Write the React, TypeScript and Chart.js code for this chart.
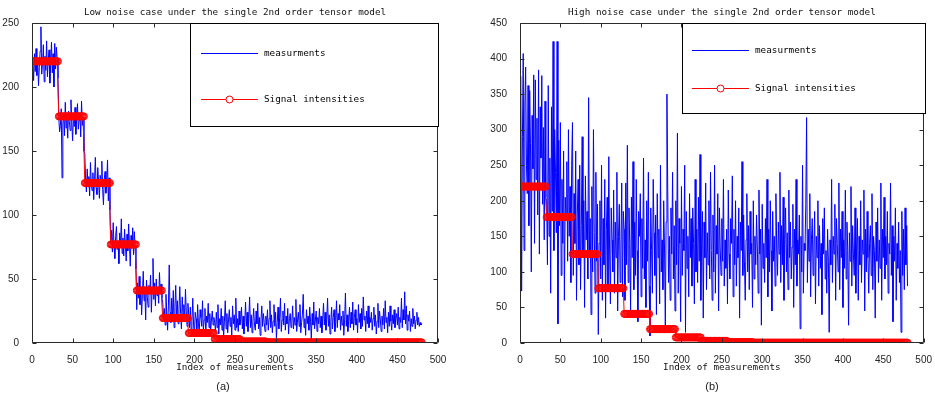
import React, { useEffect, useRef } from 'react';
import { Chart, registerables } from 'chart.js';

Chart.register(...registerables);

// ---------- data ----------
// signal intensity per block of 32 measurements (same in both panels)
const signalLevels = [220, 177, 125, 77, 41, 19.5, 7.8, 3, 1.2, 0.5, 0.5, 0.5, 0.5, 0.5, 0.5];
const blockSize = 32;

const lowNoiseMeasurements = [
  218, 205, 226, 212, 230, 209, 222, 201, 215, 228, 247, 210, 219, 233, 204, 224, 213, 236, 208, 221, 229, 203, 217, 235, 211, 226, 200, 234, 214, 231, 222, 207,
  176, 165, 170, 183, 129, 171, 179, 162, 188, 168, 175, 160, 181, 173, 166, 190, 172, 158, 178, 169, 184, 163, 175, 187, 167, 174, 180, 161, 189, 170, 176, 150,
  148, 128, 118, 136, 122, 130, 115, 141, 124, 119, 133, 112, 127, 145, 121, 116, 137, 126, 113, 131, 123, 142, 120, 108, 128, 134, 117, 125, 143, 111, 129, 104,
  80, 88, 71, 94, 76, 66, 83, 91, 73, 79, 62, 86, 75, 97, 70, 82, 68, 89, 77, 64, 85, 72, 93, 78, 60, 84, 74, 90, 69, 87, 76, 58,
  26, 47, 35, 52, 30, 44, 22, 38, 56, 33, 41, 18, 49, 36, 28, 45, 39, 53, 24, 42, 66, 34, 47, 29, 50, 37, 43, 31, 55, 40, 46, 35,
  32, 18, 27, 14, 38, 22, 10, 29, 61, 24, 16, 35, 20, 41, 12, 28, 45, 19, 33, 15, 26, 44, 23, 11, 36, 21, 30, 17, 42, 25, 13, 31,
  22, 12, 28, 9, 17, 35, 14, 6, 24, 19, 11, 30, 15, 8, 26, 20, 13, 33, 10, 18, 27, 7, 21, 16, 31, 12, 23, 9, 18, 25, 14, 20,
  16, 9, 24, 12, 30, 7, 19, 14, 27, 10, 21, 5, 17, 33, 11, 23, 8, 18, 26, 13, 20, 6, 29, 15, 22, 10, 35, 12, 19, 9, 25, 14,
  18, 28, 11, 21, 7, 16, 32, 13, 24, 9, 19, 36, 12, 22, 8, 17, 27, 14, 10, 25, 15, 31, 11, 20, 6, 18, 29, 13, 23, 16, 9, 21,
  14, 26, 10, 19, 33, 12, 22, 8, 17, 30, 13, 24, 4, 16, 28, 11, 20, 35, 9, 18, 25, 14, 31, 10, 21, 15, 27, 7, 19, 23, 12, 17,
  29, 11, 20, 14, 34, 9, 18, 24, 13, 30, 8, 16, 22, 38, 12, 19, 6, 26, 15, 21, 10, 28, 17, 3, 23, 14, 32, 11, 18, 25, 9, 20,
  15, 27, 12, 21, 8, 18, 31, 14, 24, 10, 19, 35, 13, 22, 7, 17, 28, 11, 20, 26, 9, 16, 33, 12, 23, 18, 30, 10, 21, 14, 25, 6,
  18, 39, 13, 22, 9, 17, 28, 12, 24, 15, 32, 10, 20, 26, 14, 19, 8, 30, 16, 23, 11, 27, 13, 36, 18, 21, 9, 25, 15, 29, 12, 20,
  16, 24, 10, 19, 28, 13, 22, 7, 17, 31, 12, 25, 18, 9, 21, 14, 27, 11, 33, 16, 20, 8, 24, 13, 29, 17, 10, 22, 15, 26, 12, 19,
  23, 14, 28, 11, 20, 16, 35, 12, 26, 18, 40, 15, 29, 10, 22, 17, 25, 9, 19, 13, 27, 15, 21, 11, 18, 24, 14, 20, 13, 16, 14, 15,
];

const highNoiseMeasurements = [
  375, 73, 290, 407, 130, 336, 388, 250, 210, 362, 165, 355, 280, 100, 320, 245, 377, 140, 370, 230, 316, 180, 384, 125, 332, 260, 376, 195, 303, 145, 340, 205,
  200, 110, 362, 150, 260, 70, 332, 185, 424, 130, 300, 240, 155, 424, 27, 285, 165, 310, 95, 230, 140, 270, 60, 205, 175, 255, 115, 300, 150, 220, 85, 250,
  310, 95, 210, 140, 270, 60, 180, 230, 110, 250, 75, 165, 290, 120, 200, 50, 235, 145, 185, 90, 345, 130, 175, 40, 220, 100, 300, 155, 70, 240, 115, 195,
  12, 140, 200, 90, 250, 60, 175, 110, 230, 35, 160, 205, 80, 262, 125, 55, 190, 145, 100, 215, 70, 170, 120, 240, 45, 150, 195, 85, 130, 225, 65, 185,
  160, 60, 225, 110, 278, 85, 190, 140, 45, 205, 120, 255, 75, 170, 95, 230, 130, 30, 185, 150, 210, 65, 175, 105, 260, 90, 145, 50, 200, 115, 240, 80,
  10, 190, 130, 70, 230, 155, 95, 180, 40, 210, 120, 160, 55, 250, 100, 145, 75, 200, 135, 20, 170, 350, 215, 85, 150, 60, 190, 125, 240, 90, 165, 45,
  200, 110, 295, 70, 175, 140, 30, 220, 95, 160, 130, 250, 15, 185, 105, 150, 65, 210, 120, 175, 80, 190, 140, 55, 230, 100, 160, 85, 205, 115, 265, 60,
  140, 185, 35, 170, 120, 225, 75, 155, 110, 200, 90, 240, 130, 60, 180, 100, 250, 70, 165, 125, 210, 45, 190, 135, 95, 175, 115, 230, 80, 145, 105, 160,
  55, 215, 125, 90, 175, 140, 235, 65, 160, 110, 200, 80, 150, 120, 190, 35, 170, 130, 255, 95, 180, 115, 60, 145, 210, 100, 165, 75, 185, 125, 140, 50,
  200, 90, 150, 110, 180, 135, 70, 215, 125, 160, 25, 195, 105, 140, 85, 175, 120, 230, 65, 160, 100, 200, 130, 45, 185, 115, 150, 80, 210, 135, 95, 170,
  125, 240, 85, 165, 110, 205, 60, 145, 190, 100, 155, 75, 215, 120, 170, 90, 135, 195, 50, 160, 110, 230, 80, 145, 125, 180, 20, 150, 100, 250, 70, 140,
  130, 195, 317, 85, 160, 115, 210, 65, 145, 175, 95, 135, 185, 55, 150, 120, 200, 80, 165, 105, 140, 40, 175, 125, 190, 90, 130, 70, 160, 115, 15, 145,
  110, 230, 85, 150, 125, 195, 60, 175, 140, 100, 225, 75, 160, 120, 185, 50, 145, 105, 215, 90, 170, 130, 25, 155, 115, 220, 80, 165, 125, 95, 190, 70,
  135, 175, 60, 150, 110, 200, 85, 145, 125, 215, 45, 160, 100, 185, 120, 70, 140, 165, 95, 210, 75, 150, 130, 35, 170, 115, 190, 85, 145, 105, 225, 60,
  160, 120, 205, 90, 150, 110, 185, 70, 140, 125, 225, 95, 165, 30, 150, 115, 190, 60, 140, 105, 170, 85, 130, 15, 185, 95, 160, 75, 190, 110, 165, 80,
];

const xTicks = [0, 50, 100, 150, 200, 250, 300, 350, 400, 450, 500];
const lowYTicks = [0, 50, 100, 150, 200, 250];
const highYTicks = [0, 50, 100, 150, 200, 250, 300, 350, 400, 450];

const seriesNames = ['measurments', 'Signal intensities'];
const xAxisLabel = 'Index of measurements';
const titles = [
  'Low noise case under the single 2nd order tensor model',
  'High noise case under the single 2nd order tensor model',
];
const captions = ['(a)', '(b)'];

// ---------- rendering ----------
const MONO = '"DejaVu Sans Mono", "Liberation Mono", monospace';
const SANS = '"Liberation Sans", Arial, sans-serif';

const signalSeries: number[] = [];
signalLevels.forEach((lvl) => {
  for (let k = 0; k < blockSize; k++) signalSeries.push(lvl);
});

type LegendGeom = {
  x1: number; x2: number; y1: number; y2: number;
  row1: number; row2: number; lineX1: number; lineX2: number; textX: number;
};

type PanelSpec = {
  left: number;
  width: number;
  title: string;
  caption: string;
  captionX: number;
  measurements: number[];
  yMax: number;
  yTicks: number[];
  yAxisWidth: number;
  padRight: number;
  legend: LegendGeom;
};

const H = 397;

const boxPlugin = {
  id: 'matlabBox',
  afterDatasetsDraw(chart: any, _args: any, opts: any) {
    const { ctx, chartArea: a } = chart;
    const xs = chart.scales.x;
    const ys = chart.scales.y;
    ctx.save();
    const L = Math.round(a.left) + 0.5;
    const R = Math.round(a.right) - 0.5;
    const T = Math.round(a.top) + 0.5;
    const B = Math.round(a.bottom) - 0.5;
    ctx.strokeStyle = '#2a2a2a';
    ctx.lineWidth = 1;
    ctx.beginPath();
    ctx.rect(L, T, R - L, B - T);
    xTicks.forEach((v) => {
      const px = Math.round(xs.getPixelForValue(v)) + 0.5;
      ctx.moveTo(px, B);
      ctx.lineTo(px, B - 4);
      ctx.moveTo(px, T);
      ctx.lineTo(px, T + 4);
    });
    (opts.yTicks as number[]).forEach((v) => {
      const py = Math.round(ys.getPixelForValue(v)) + 0.5;
      ctx.moveTo(L, py);
      ctx.lineTo(L + 4, py);
      ctx.moveTo(R, py);
      ctx.lineTo(R - 4, py);
    });
    ctx.stroke();

    // legend box
    const lg: LegendGeom = opts.legend;
    ctx.fillStyle = '#ffffff';
    ctx.fillRect(lg.x1, lg.y1, lg.x2 - lg.x1, lg.y2 - lg.y1);
    ctx.strokeStyle = '#000000';
    ctx.strokeRect(lg.x1 + 0.5, lg.y1 + 0.5, lg.x2 - lg.x1 - 1, lg.y2 - lg.y1 - 1);

    const ds = chart.data.datasets;
    ctx.lineWidth = 1;
    // row 1: measurements
    ctx.strokeStyle = '#0000ff';
    ctx.beginPath();
    ctx.moveTo(lg.lineX1, lg.row1 + 0.5);
    ctx.lineTo(lg.lineX2, lg.row1 + 0.5);
    ctx.stroke();
    // row 2: signal with marker
    ctx.strokeStyle = '#ff0000';
    ctx.beginPath();
    ctx.moveTo(lg.lineX1, lg.row2 + 0.5);
    ctx.lineTo(lg.lineX2, lg.row2 + 0.5);
    ctx.stroke();
    ctx.fillStyle = '#ffffff';
    ctx.beginPath();
    ctx.arc((lg.lineX1 + lg.lineX2) / 2, lg.row2 + 0.5, 3.5, 0, Math.PI * 2);
    ctx.fill();
    ctx.stroke();

    ctx.fillStyle = '#000000';
    ctx.font = `9.3px ${MONO}`;
    ctx.textBaseline = 'middle';
    ctx.textAlign = 'left';
    ctx.fillText(ds[0].label, lg.textX, lg.row1 + 1);
    ctx.fillText(ds[1].label, lg.textX, lg.row2 + 1);

    // caption under the panel
    ctx.font = `11px ${SANS}`;
    ctx.textAlign = 'center';
    ctx.fillStyle = '#222222';
    ctx.fillText(opts.caption, opts.captionX, 387);
    ctx.restore();
  },
};

function Panel({ spec }: { spec: PanelSpec }) {
  const ref = useRef<HTMLCanvasElement | null>(null);
  useEffect(() => {
    if (!ref.current) return;
    const chart = new Chart(ref.current, {
      type: 'line',
      data: {
        datasets: [
          {
            label: seriesNames[0],
            data: spec.measurements.map((y, i) => ({ x: i + 1, y })),
            borderColor: '#0000ff',
            borderWidth: 1,
            pointRadius: 0,
            fill: false,
            tension: 0,
            order: 2,
          },
          {
            label: seriesNames[1],
            data: signalSeries.map((y, i) => ({ x: i + 1, y })),
            borderColor: '#ff0000',
            borderWidth: 1,
            pointRadius: 3.5,
            pointStyle: 'circle',
            pointBorderColor: '#ff0000',
            pointBackgroundColor: 'rgba(255,255,255,0)',
            pointBorderWidth: 1,
            fill: false,
            tension: 0,
            order: 1,
          },
        ],
      },
      options: {
        responsive: false,
        animation: false,
        devicePixelRatio: 1,
        events: [],
        layout: { padding: { left: 0, right: spec.padRight, top: 0, bottom: 0 } },
        plugins: {
          legend: { display: false },
          tooltip: { enabled: false },
          title: {
            display: true,
            text: spec.title,
            fullSize: false,
            color: '#111111',
            font: { family: MONO, size: 9.3, weight: 'normal' },
            padding: { top: 7.4, bottom: 4.4 },
          },
          matlabBox: { yTicks: spec.yTicks, legend: spec.legend, caption: spec.caption, captionX: spec.captionX },
        } as any,
        scales: {
          x: {
            type: 'linear',
            min: 0,
            max: 500,
            afterBuildTicks: (s: any) => {
              s.ticks = xTicks.map((v) => ({ value: v }));
            },
            afterFit: (s: any) => {
              s.height = 54;
            },
            grid: { display: false },
            border: { display: false },
            ticks: {
              autoSkip: false,
              maxRotation: 0,
              padding: 3,
              color: '#262626',
              font: { family: SANS, size: 10 },
            },
            title: {
              display: true,
              text: xAxisLabel,
              color: '#111111',
              font: { family: MONO, size: 9.3 },
              padding: { top: 0, bottom: 23.4 },
            },
          },
          y: {
            type: 'linear',
            min: 0,
            max: spec.yMax,
            afterBuildTicks: (s: any) => {
              s.ticks = spec.yTicks.map((v) => ({ value: v }));
            },
            afterFit: (s: any) => {
              s.width = spec.yAxisWidth;
            },
            grid: { display: false },
            border: { display: false },
            ticks: {
              padding: 5,
              color: '#262626',
              font: { family: SANS, size: 10 },
            },
          },
        },
      },
      plugins: [boxPlugin as any],
    });
    return () => chart.destroy();
  }, [spec]);
  return (
    <canvas
      ref={ref}
      width={spec.width}
      height={H}
      style={{ position: 'absolute', left: spec.left, top: 0, width: spec.width, height: H }}
    />
  );
}

const panels: PanelSpec[] = [
  {
    left: 0,
    width: 470,
    title: titles[0],
    caption: captions[0],
    captionX: 223,
    measurements: lowNoiseMeasurements,
    yMax: 250,
    yTicks: lowYTicks,
    yAxisWidth: 32,
    padRight: 32,
    legend: { x1: 190, x2: 439, y1: 23, y2: 127, row1: 53, row2: 99, lineX1: 201, lineX2: 258, textX: 264 },
  },
  {
    left: 470,
    width: 465,
    title: titles[1],
    caption: captions[1],
    captionX: 242,
    measurements: highNoiseMeasurements,
    yMax: 450,
    yTicks: highYTicks,
    yAxisWidth: 50,
    padRight: 10,
    legend: { x1: 212, x2: 456, y1: 23, y2: 114, row1: 50, row2: 88, lineX1: 222, lineX2: 279, textX: 285 },
  },
];

export default function App() {
  return (
    <div style={{ position: 'absolute', left: 0, top: 0, width: 935, height: H, background: '#ffffff' }}>
      {panels.map((p, i) => (
        <Panel key={i} spec={p} />
      ))}
    </div>
  );
}
